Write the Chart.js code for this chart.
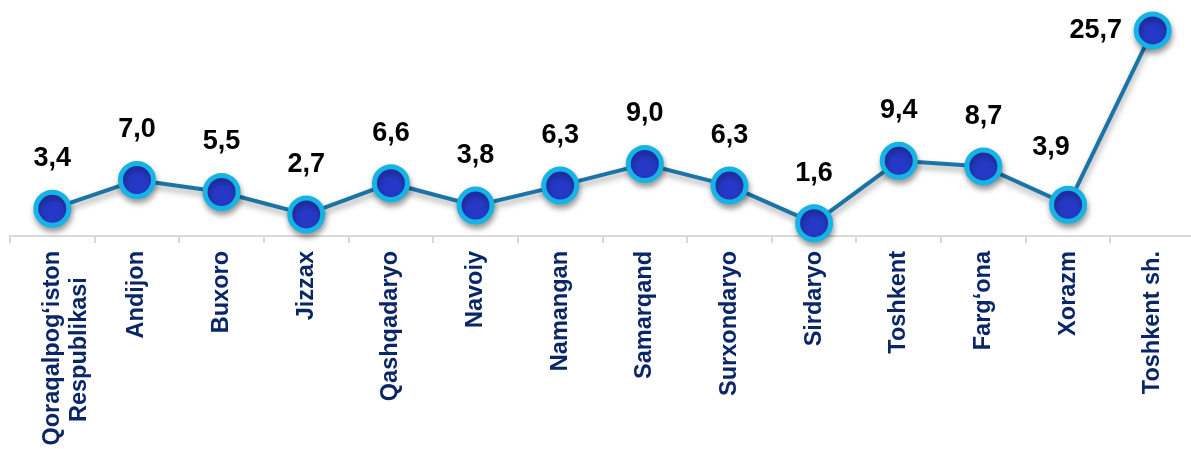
<!DOCTYPE html>
<html>
<head>
<meta charset="utf-8">
<script src="https://cdn.jsdelivr.net/npm/chart.js@4"></script>
<style>
  html, body { margin: 0; padding: 0; background: #fff; overflow: hidden; }
  #wrap { position: relative; width: 1195px; height: 449px; }
</style>
</head>
<body>
<div id="wrap"><canvas id="chart"></canvas></div>
<script>
// second line padded so it sits centred under the first, as in the source
const REGIONS = [
  ['Qoraqalpog‘iston', 'Respublikasi\u00A0\u00A0\u00A0\u00A0'],
  'Andijon', 'Buxoro', 'Jizzax', 'Qashqadaryo', 'Navoiy', 'Namangan',
  'Samarqand', 'Surxondaryo', 'Sirdaryo', 'Toshkent', 'Farg‘ona', 'Xorazm',
  'Toshkent sh.'
];

const VALUES = [3.4, 7.0, 5.5, 2.7, 6.6, 3.8, 6.3, 9.0, 6.3, 1.6, 9.4, 8.7, 3.9, 25.7];

const COLORS = {
  line: '#1B74A6',
  pointFill: '#2639C6',
  pointBorder: '#15B4E4',
  tickText: '#0B2667',
  valueText: '#000000',
  axis: '#D9D9D9'
};

const FONT = 'Arial, "Liberation Sans", sans-serif';

// value labels above points (last ones are nudged like in the original)
const valueLabels = {
  id: 'valueLabels',
  afterDatasetsDraw(chart) {
    const { ctx } = chart;
    const meta = chart.getDatasetMeta(0);
    const nudge = { 12: [-17, -57], 13: [-57, 0] };
    ctx.save();
    ctx.font = 'bold 27px ' + FONT;
    ctx.fillStyle = COLORS.valueText;
    ctx.textAlign = 'center';
    ctx.textBaseline = 'middle';
    meta.data.forEach((pt, i) => {
      const [dx, dy] = nudge[i] || [0, -50];
      const txt = VALUES[i].toFixed(1).replace('.', ',');
      ctx.fillText(txt, pt.x + dx, pt.y + dy);
    });
    ctx.restore();
  }
};

// soft drop shadow under line and markers
const shadow = {
  id: 'shadow',
  beforeDatasetsDraw(chart) {
    const { ctx } = chart;
    ctx.save();
    ctx.shadowColor = 'rgba(0, 0, 0, 0.35)';
    ctx.shadowBlur = 6;
    ctx.shadowOffsetX = 1;
    ctx.shadowOffsetY = 4;
  },
  afterDatasetsDraw(chart) {
    chart.ctx.restore();
  }
};

new Chart(document.getElementById('chart'), {
  type: 'line',
  data: {
    labels: REGIONS,
    datasets: [{
      data: VALUES,
      borderColor: COLORS.line,
      borderWidth: 4,
      tension: 0,
      pointRadius: 16.5,
      pointHoverRadius: 16.5,
      pointBorderWidth: 5,
      pointBackgroundColor: COLORS.pointFill,
      pointBorderColor: COLORS.pointBorder,
      clip: false
    }]
  },
  options: {
    responsive: true,
    maintainAspectRatio: false,
    animation: false,
    devicePixelRatio: 1,
    layout: { autoPadding: false, padding: { left: 10, right: 0, top: 0, bottom: 0 } },
    plugins: {
      legend: { display: false },
      tooltip: { enabled: false }
    },
    scales: {
      x: {
        offset: true,
        afterFit(scale) { scale.height = 213; },
        border: { display: true, color: COLORS.axis, width: 2 },
        grid: {
          offset: true,
          drawOnChartArea: false,
          drawTicks: true,
          tickLength: 7,
          color: COLORS.axis,
          lineWidth: 2
        },
        ticks: {
          autoSkip: false,
          minRotation: 90,
          maxRotation: 90,
          padding: 8,
          color: COLORS.tickText,
          font: { family: FONT, size: 23.5, weight: 'bold', lineHeight: 1.15 }
        }
      },
      y: {
        display: false,
        min: 0,
        max: 29.5
      }
    }
  },
  plugins: [shadow, valueLabels]
});
</script>
</body>
</html>
